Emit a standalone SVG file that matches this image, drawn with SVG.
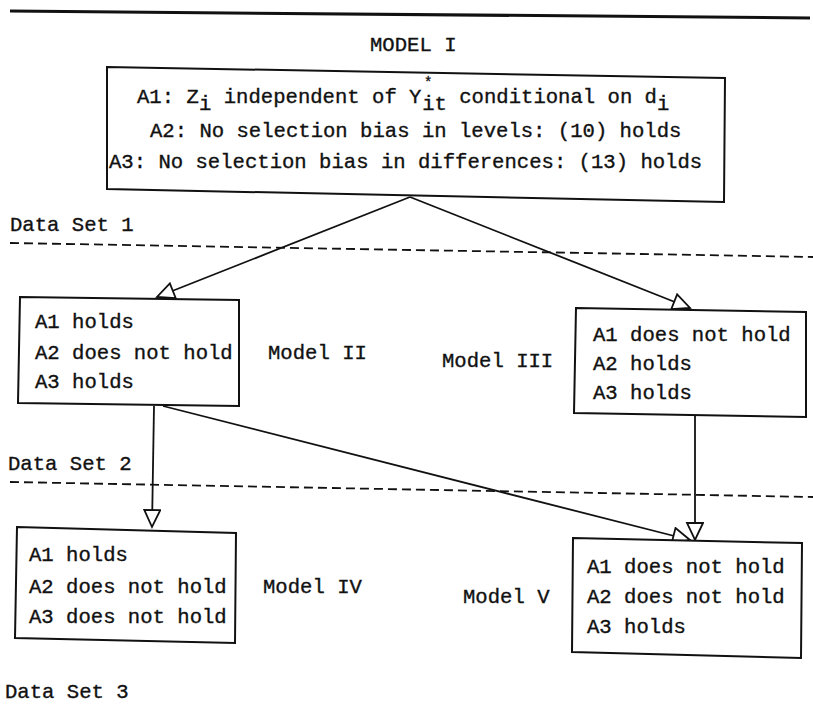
<svg xmlns="http://www.w3.org/2000/svg" width="813" height="704" viewBox="0 0 813 704">
<style>
  text { font-family: "Liberation Mono", "Courier New", monospace; font-size: 20.6px; fill: #111; stroke: #111; stroke-width: 0.35; }
  .box { fill: #fff; stroke: #111; stroke-width: 2; }
  .conn { fill: none; stroke: #111; stroke-width: 1.8; marker-end: url(#open); }
  .dash { fill: none; stroke: #111; stroke-width: 1.8; stroke-dasharray: 9 5; }
</style>
<defs>
  <marker id="open" markerUnits="userSpaceOnUse" markerWidth="22" markerHeight="20" viewBox="0 0 22 20" refX="19" refY="9" orient="auto">
    <path d="M2,1 L19,9 L2,17 Z" fill="#fff" stroke="#111" stroke-width="1.8"/>
  </marker>
</defs>
<rect width="813" height="704" fill="#fff"/>
<line x1="10" y1="11" x2="810" y2="18" stroke="#111" stroke-width="3"/>
<text x="370" y="51">MODEL I</text>
<g id="separators">
  <text x="10" y="231">Data Set 1</text>
  <line class="dash" x1="10" y1="243" x2="813" y2="257"/>
  <text x="8" y="470">Data Set 2</text>
  <line class="dash" x1="10" y1="482" x2="813" y2="497"/>
  <text x="5" y="698">Data Set 3</text>
</g>
<g id="connectors">
  <line class="conn" x1="410" y1="197" x2="157" y2="297"/>
  <line class="conn" x1="410" y1="197" x2="690" y2="308"/>
  <line class="conn" x1="154" y1="406" x2="152" y2="527"/>
  <line class="conn" x1="163" y1="406" x2="690" y2="540"/>
  <line class="conn" x1="695" y1="416" x2="695" y2="540"/>
</g>
<g id="model1">
  <polygon class="box" points="107,67 725,78 724,202 107,189"/>
  <text y="103"><tspan x="137">A1: Z</tspan><tspan x="199" dy="7">i</tspan><tspan x="211.4" dy="-7"> independent of Y</tspan><tspan x="424" dy="-16" font-size="14">*</tspan><tspan x="422.2" dy="23">it</tspan><tspan x="446.9" dy="-7"> conditional on d</tspan><tspan x="657" dy="7">i</tspan></text>
  <text x="150" y="137">A2: No selection bias in levels: (10) holds</text>
  <text x="109" y="168">A3: No selection bias in differences: (13) holds</text>
</g>
<g id="model2">
  <polygon class="box" points="20,297 239,300 239,406 18,403"/>
  <text x="35" y="328">A1 holds</text>
  <text x="35" y="359">A2 does not hold</text>
  <text x="35" y="388">A3 holds</text>
  <text x="268" y="359">Model II</text>
</g>
<g id="model3">
  <polygon class="box" points="576,308 806,312 806,417 574,413"/>
  <text x="593" y="341">A1 does not hold</text>
  <text x="593" y="370">A2 holds</text>
  <text x="593" y="399">A3 holds</text>
  <text x="442" y="367">Model III</text>
</g>
<g id="model4">
  <polygon class="box" points="17,527 236,533 235,643 15,638"/>
  <text x="29" y="561">A1 holds</text>
  <text x="29" y="593">A2 does not hold</text>
  <text x="29" y="623">A3 does not hold</text>
  <text x="263" y="593">Model IV</text>
</g>
<g id="model5">
  <polygon class="box" points="573,538 802,543 801,658 572,652"/>
  <text x="587" y="573">A1 does not hold</text>
  <text x="587" y="603">A2 does not hold</text>
  <text x="587" y="633">A3 holds</text>
  <text x="463" y="603">Model V</text>
</g>
</svg>
